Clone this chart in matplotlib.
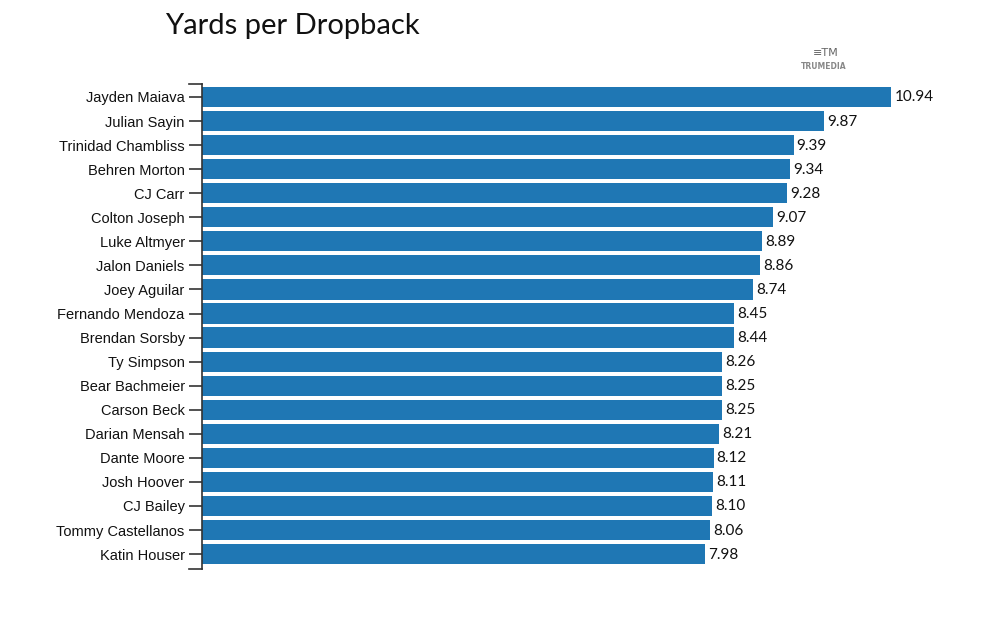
import matplotlib.pyplot as plt

players = ['Jayden Maiava', 'Julian Sayin', 'Trinidad Chambliss', 'Behren Morton', 'CJ Carr',
           'Colton Joseph', 'Luke Altmyer', 'Jalon Daniels', 'Joey Aguilar', 'Fernando Mendoza',
           'Brendan Sorsby', 'Ty Simpson', 'Bear Bachmeier', 'Carson Beck', 'Darian Mensah',
           'Dante Moore', 'Josh Hoover', 'CJ Bailey', 'Tommy Castellanos', 'Katin Houser']
ypd = [10.94, 9.87, 9.39, 9.34, 9.28, 9.07, 8.89, 8.86, 8.74, 8.45,
       8.44, 8.26, 8.25, 8.25, 8.21, 8.12, 8.11, 8.10, 8.06, 7.98]

fig = plt.figure(figsize=(10, 6.25), dpi=100)
ax = fig.add_axes([0.202, 0.0896, 0.756, 0.776])

pos = list(range(len(players)))
ax.barh(pos, ypd, height=0.84, color='#1f77b4')
for p, v in zip(pos, ypd):
    ax.text(v + 0.05, p + 0.02, f'{v:.2f}', va='center', ha='left',
            fontsize=11, family='Lato', color='#111111')

ax.set_xlim(0, 12)
ax.set_ylim(19.62, -0.54)
ax.set_yticks(pos)
ax.set_yticklabels(players, fontsize=10.5, family='Liberation Sans', color='#111111')
ax.tick_params(axis='y', length=9.5, width=1.2, color='#333333', pad=3)
ax.set_xticks([])
for s in ['top', 'right', 'bottom']:
    ax.spines[s].set_visible(False)
ax.spines['left'].set_color('#333333')
ax.spines['left'].set_linewidth(1.2)

# outer ticks at the ends of the axis
for yy in [0, 1]:
    ax.plot([-0.0175, 0], [yy, yy], transform=ax.transAxes, color='#333333',
            lw=1.2, clip_on=False)

fig.text(0.165, 0.958, 'Yards per Dropback', fontsize=21, family='Lato',
         va='center', ha='left', color='#111111')

# logo
fig.text(0.824, 0.893, 'TRUMEDIA', fontsize=5.5, family='DejaVu Sans', weight='bold',
         color='#888888', ha='center', va='center')
fig.text(0.826, 0.915, '≡TM', fontsize=8, family='DejaVu Sans',
         color='#666666', ha='center', va='center')

fig.savefig('out.png', dpi=100)
